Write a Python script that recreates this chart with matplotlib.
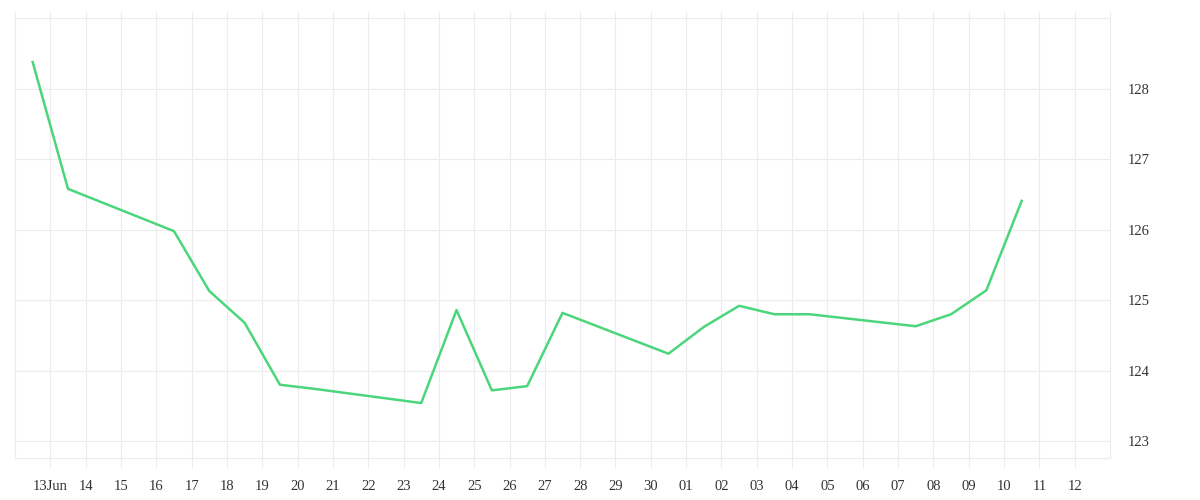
import numpy as np
import pandas as pd
import matplotlib
matplotlib.use("Agg")
import matplotlib.pyplot as plt
import matplotlib.dates as mdates

# daily closes, stamped at noon
dates = ["2024-06-12", "2024-06-13", "2024-06-16", "2024-06-17", "2024-06-18",
         "2024-06-19", "2024-06-20", "2024-06-23", "2024-06-24", "2024-06-25",
         "2024-06-26", "2024-06-27", "2024-06-30", "2024-07-01", "2024-07-02",
         "2024-07-03", "2024-07-04", "2024-07-07", "2024-07-08", "2024-07-09",
         "2024-07-10"]
values = [128.38, 126.58, 125.98, 125.13, 124.68, 123.80, 123.74, 123.54,
          124.86, 123.72, 123.78, 124.82, 124.24, 124.62, 124.92, 124.80,
          124.80, 124.63, 124.80, 125.14, 126.41]

tick_days = pd.date_range("2024-06-13", "2024-07-12", freq="D")
tick_labels = ["13Jun"] + [d.strftime("%d") for d in tick_days[1:]]
y_ticks = [123, 124, 125, 126, 127, 128]

x = pd.to_datetime(dates) + pd.Timedelta(hours=12)

grid_c = "#ececec"
text_c = "#333333"

fig = plt.figure(figsize=(12, 5), dpi=100)
ax = fig.add_axes([15 / 1200, 42 / 500, 1095 / 1200, 446 / 500])

ax.plot(x, values, color="#4cd67c", lw=1.8, solid_joinstyle="round")

ax.set_xlim(pd.Timestamp("2024-06-12"), pd.Timestamp("2024-07-13"))
ax.set_ylim(122.76, 129.09)

ax.set_xticks(tick_days)
ax.set_xticklabels(tick_labels)
ax.set_yticks(y_ticks)
ax.set_yticklabels([str(v) for v in y_ticks])
ax.yaxis.tick_right()

ax.grid(True, color=grid_c, lw=0.8)
ax.axhline(129, color=grid_c, lw=0.8, zorder=0)
for s in ax.spines.values():
    s.set_color(grid_c)
    s.set_linewidth(0.8)
ax.spines["top"].set_visible(False)

ax.tick_params(axis="x", length=7, color=grid_c, width=0.8, pad=9,
               labelsize=10.5, labelcolor=text_c)
ax.tick_params(axis="y", length=0, pad=13, labelsize=10.5, labelcolor=text_c)
for lab in ax.get_xticklabels() + ax.get_yticklabels():
    lab.set_family("Liberation Serif")

fig.savefig("out.png", dpi=100, facecolor="white")
